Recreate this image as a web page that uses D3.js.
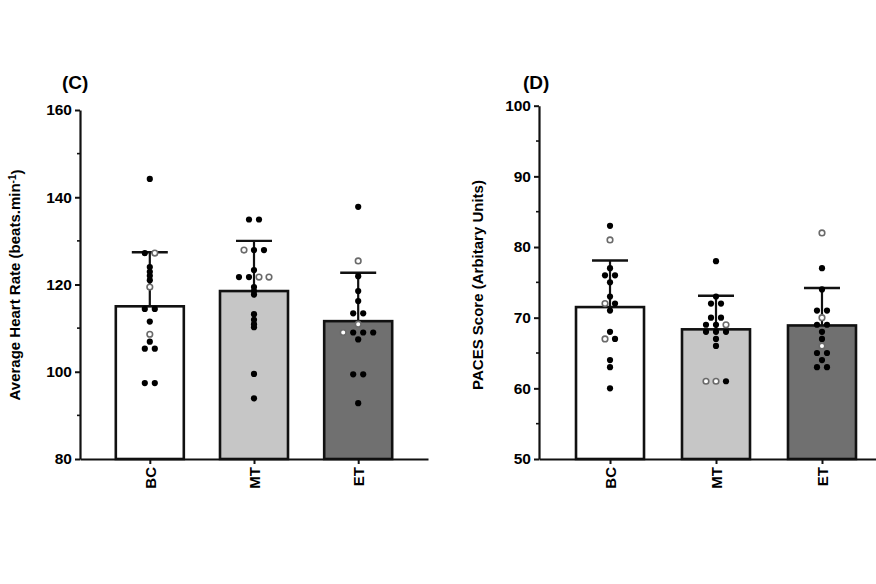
<!DOCTYPE html>
<html>
<head>
<meta charset="utf-8">
<script src="https://cdn.jsdelivr.net/npm/d3@7"></script>
<style>
  html, body { margin: 0; padding: 0; background: #fff; }
  svg { display: block; }
  text { font-family: "Liberation Sans", Arial, sans-serif; font-weight: bold; fill: #000; }
</style>
</head>
<body>
<svg id="chart" width="876" height="584"></svg>
<script>
// ---------- DATA ----------
const categories = ["BC", "MT", "ET"];

// Panel C: average heart rate (beats.min-1)
const hrMean = [115.0, 118.5, 111.6];
const hrSD   = [12.4, 11.5, 11.1];
const hrBC = [144.2, 127.2, 127.2, 124.0, 122.9, 122.0, 121.0, 119.4, 114.4, 114.4, 111.5, 108.6, 106.9, 105.3, 105.3, 97.4, 97.4];
const hrBCOpen = [0, 0, 1, 0, 0, 0, 0, 1, 0, 0, 0, 1, 0, 0, 0, 0, 0];
const hrMT = [134.9, 134.9, 127.9, 127.9, 127.9, 123.3, 121.7, 121.7, 121.7, 121.7, 119.4, 118.5, 117.7, 113.2, 111.9, 110.9, 110.2, 99.5, 93.9];
const hrMTOpen = [0, 0, 1, 0, 0, 0, 0, 0, 1, 1, 0, 0, 0, 0, 0, 0, 0, 0, 0];
const hrET = [137.8, 125.4, 121.9, 118.5, 116.2, 113.4, 113.4, 110.9, 109.0, 109.0, 109.0, 109.0, 107.4, 99.4, 99.4, 92.8];
const hrETOpen = [0, 1, 0, 0, 0, 0, 0, 1, 1, 0, 0, 0, 0, 0, 0, 0];
const hrTicks = [80, 100, 120, 140, 160];
const hrMinorTicks = [90, 110, 130, 150];

// Panel D: PACES score (arbitrary units)
const pacesMean = [71.5, 68.35, 68.9];
const pacesSD   = [6.6, 4.75, 5.3];
const pacesBC = [83, 81, 77, 76, 76, 75, 73, 72, 72, 71, 68, 67, 67, 64, 63, 60];
const pacesBCOpen = [0, 1, 0, 0, 0, 0, 0, 1, 0, 0, 0, 1, 0, 0, 0, 0];
const pacesMT = [78, 73, 72, 72, 70, 70, 69, 69, 69, 68, 68, 68, 67, 66, 61, 61, 61];
const pacesMTOpen = [0, 0, 0, 0, 0, 0, 0, 0, 1, 0, 0, 0, 0, 0, 1, 1, 0];
const pacesET = [82, 77, 74, 71, 71, 70, 69, 69, 68, 67, 66, 65, 65, 64, 63, 63];
const pacesETOpen = [1, 0, 0, 0, 0, 1, 0, 0, 0, 0, 1, 0, 0, 0, 0, 0];
const pacesTicks = [50, 60, 70, 80, 90, 100];
const pacesMinorTicks = [55, 65, 75, 85, 95];

const barFills = ["#ffffff", "#c6c6c6", "#707070"];

// ---------- DRAWING ----------
const svg = d3.select("#chart");

function panel(opts) {
  const g = svg.append("g");
  const x = d3.scalePoint().domain(categories).range(opts.xRange).padding(0.67);
  const y = d3.scaleLinear().domain(opts.yDomain).range(opts.yRange);
  const barW = 68;

  // bars
  g.selectAll("rect.bar").data(categories).join("rect")
    .attr("x", d => x(d) - barW / 2)
    .attr("y", (d, i) => y(opts.means[i]))
    .attr("width", barW)
    .attr("height", (d, i) => y(opts.yDomain[0]) - y(opts.means[i]))
    .attr("fill", (d, i) => barFills[i])
    .attr("stroke", "#111")
    .attr("stroke-width", 2.6);

  // error bars (upper only)
  const eb = g.selectAll("g.eb").data(categories).join("g");
  eb.append("line")
    .attr("x1", d => x(d)).attr("x2", d => x(d))
    .attr("y1", (d, i) => y(opts.means[i]))
    .attr("y2", (d, i) => y(opts.means[i] + opts.sds[i]))
    .attr("stroke", "#111").attr("stroke-width", 2.2);
  eb.append("line")
    .attr("x1", d => x(d) - 18).attr("x2", d => x(d) + 18)
    .attr("y1", (d, i) => y(opts.means[i] + opts.sds[i]))
    .attr("y2", (d, i) => y(opts.means[i] + opts.sds[i]))
    .attr("stroke", "#111").attr("stroke-width", 2.4);

  // points: values sharing the same value sit side by side in a row
  const spacing = 10;
  opts.points.forEach((grp, gi) => {
    const rows = d3.groups(grp.values.map((v, k) => ({ v, open: grp.open[k] })), d => d.v);
    const pts = [];
    rows.forEach(([v, items]) => {
      items.forEach((it, j) => {
        pts.push({ v, open: it.open, off: (j - (items.length - 1) / 2) * spacing });
      });
    });
    g.selectAll(null).data(pts).join("circle")
      .attr("cx", d => x(categories[gi]) + d.off)
      .attr("cy", d => y(d.v))
      .attr("r", d => d.open ? 2.8 : 3.1)
      .attr("fill", d => d.open ? "#fff" : "#000")
      .attr("stroke", d => d.open ? "#6a6a6a" : "none")
      .attr("stroke-width", 1.6);
  });

  // y axis
  const yAxis = g.append("g")
    .attr("transform", `translate(${opts.xRange[0]},0)`)
    .call(d3.axisLeft(y).tickValues(opts.ticks).tickSize(5).tickSizeOuter(0).tickPadding(3));
  yAxis.select(".domain").attr("stroke", "#111").attr("stroke-width", 2.2);
  yAxis.selectAll(".tick line").attr("stroke", "#111").attr("stroke-width", 2);
  yAxis.selectAll(".tick text").style("font-size", "15.5px").attr("font-family", null);
  g.selectAll("line.minor").data(opts.minor).join("line")
    .attr("x1", opts.xRange[0] - 3).attr("x2", opts.xRange[0])
    .attr("y1", d => y(d)).attr("y2", d => y(d))
    .attr("stroke", "#111").attr("stroke-width", 1.6);

  // x axis
  const xAxis = g.append("g")
    .attr("transform", `translate(0,${opts.yRange[0]})`)
    .call(d3.axisBottom(x).tickSize(5).tickSizeOuter(0).tickPadding(3));
  xAxis.select(".domain").attr("stroke", "#111").attr("stroke-width", 2.2);
  xAxis.selectAll(".tick line").attr("stroke", "#111").attr("stroke-width", 2);
  xAxis.selectAll(".tick text")
    .style("font-size", "15px").attr("font-family", null)
    .attr("text-anchor", "end")
    .attr("dy", "0.36em")
    .attr("transform", "translate(0,8) rotate(-90)")
    .attr("x", 0).attr("y", 0);

  // y axis title
  const t = g.append("text")
    .attr("transform", `translate(${opts.titleX},${opts.titleY}) rotate(-90)`)
    .attr("text-anchor", "middle")
    .style("font-size", "15px");
  opts.title(t);

  // panel label
  g.append("text")
    .attr("x", opts.labelX).attr("y", 89)
    .style("font-size", "19px")
    .text(opts.label);
}

panel({
  xRange: [80, 428],
  yDomain: [80, 160], yRange: [459, 110],
  means: hrMean, sds: hrSD,
  points: [
    { values: hrBC, open: hrBCOpen },
    { values: hrMT, open: hrMTOpen },
    { values: hrET, open: hrETOpen }
  ],
  ticks: hrTicks, minor: hrMinorTicks,
  titleX: 20, titleY: 285,
  title: t => {
    t.append("tspan").text("Average Heart Rate (beats.min");
    t.append("tspan").attr("dy", "-0.45em").style("font-size", "10px").text("-1");
    t.append("tspan").attr("dy", "0.45em").text(")");
  },
  labelX: 62, label: "(C)"
});

panel({
  xRange: [539, 893],
  yDomain: [50, 100], yRange: [459, 105.7],
  means: pacesMean, sds: pacesSD,
  points: [
    { values: pacesBC, open: pacesBCOpen },
    { values: pacesMT, open: pacesMTOpen },
    { values: pacesET, open: pacesETOpen }
  ],
  ticks: pacesTicks, minor: pacesMinorTicks,
  titleX: 483, titleY: 285,
  title: t => t.text("PACES Score (Arbitary Units)"),
  labelX: 523, label: "(D)"
});
</script>
</body>
</html>
